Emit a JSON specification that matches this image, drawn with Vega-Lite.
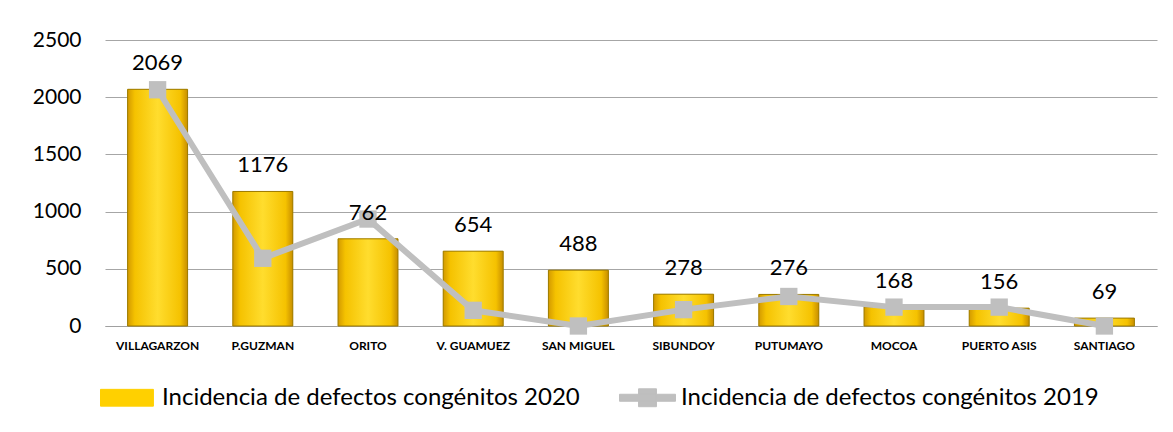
{
  "$schema": "https://vega.github.io/schema/vega-lite/v6.json",
  "width": 1052,
  "height": 286,
  "autosize": {"type": "none"},
  "padding": {"left": 105, "top": 40, "right": 16, "bottom": 106},
  "background": "white",
  "config": {"font": "Lato", "view": {"stroke": null}},
  "data": {
    "values": [
      {"municipio": "VILLAGARZON", "v2020": 2069, "v2019": 2065},
      {"municipio": "P.GUZMAN", "v2020": 1176, "v2019": 592},
      {"municipio": "ORITO", "v2020": 762, "v2019": 935},
      {"municipio": "V. GUAMUEZ", "v2020": 654, "v2019": 137},
      {"municipio": "SAN MIGUEL", "v2020": 488, "v2019": 0},
      {"municipio": "SIBUNDOY", "v2020": 278, "v2019": 143},
      {"municipio": "PUTUMAYO", "v2020": 276, "v2019": 258},
      {"municipio": "MOCOA", "v2020": 168, "v2019": 165},
      {"municipio": "PUERTO ASIS", "v2020": 156, "v2019": 165},
      {"municipio": "SANTIAGO", "v2020": 69, "v2019": 0}
    ]
  },
  "encoding": {
    "x": {
      "field": "municipio",
      "type": "nominal",
      "sort": null,
      "scale": {"paddingInner": 0.43, "paddingOuter": 0.215},
      "axis": {
        "title": null,
        "labelAngle": 0,
        "labelFont": "Lato",
        "labelFontWeight": "bold",
        "labelFontSize": 12,
        "labelColor": "#000000",
        "labelPadding": 14,
        "ticks": false,
        "domainColor": "#A0A0A0",
        "domainWidth": 1
      }
    }
  },
  "layer": [
    {
      "mark": {"type": "bar"},
      "encoding": {
        "y": {
          "field": "v2020",
          "type": "quantitative",
          "scale": {"domain": [0, 2500], "nice": false},
          "axis": {
            "title": null,
            "format": "d",
            "values": [0, 500, 1000, 1500, 2000, 2500],
            "labelFontSize": 21,
            "labelColor": "#000000",
            "labelPadding": 24,
            "ticks": false,
            "domain": false,
            "gridColor": "#A6A6A6",
            "gridWidth": 1
          }
        },
        "color": {
          "datum": "Incidencia de defectos congénitos 2020",
          "type": "nominal",
          "scale": {
            "domain": ["Incidencia de defectos congénitos 2020", "Incidencia de defectos congénitos 2019"],
            "range": ["#FFD000", "#BFBFBF"]
          },
          "legend": {
            "orient": "none",
            "legendX": -5,
            "legendY": 329,
            "padding": 0,
            "direction": "horizontal",
            "title": null,
            "labelFontSize": 24,
            "labelFont": "Lato",
            "labelColor": "#000000",
            "labelLimit": 0,
            "labelOffset": 5,
            "columnPadding": 37,
            "symbolSize": 3136,
            "encode": {
              "symbols": {
                "update": {
                  "shape": {"signal": "datum.value === 'Incidencia de defectos congénitos 2020' ? 'M-1,-0.3H0.89V0.3H-1Z' : 'M-1,-0.125H1V0.125H-1Z M-0.32,-0.32H0.32V0.32H-0.32Z'"},
                  "size": {"value": 3136},
                  "fill": {"signal": "datum.value === 'Incidencia de defectos congénitos 2020' ? '#FFCC00' : '#BFBFBF'"},
                  "stroke": {"signal": "datum.value === 'Incidencia de defectos congénitos 2020' ? '#7F6000' : '#BFBFBF'"},
                  "strokeWidth": {"value": 1},
                  "opacity": {"value": 1}
                }
              }
            }
          }
        }
      }
    },
    {
      "mark": {
        "type": "bar",
        "fill": {
          "gradient": "linear",
          "x1": 0, "x2": 1, "y1": 0, "y2": 0,
          "stops": [
            {"offset": 0, "color": "#D39A00"},
            {"offset": 0.12, "color": "#F5C200"},
            {"offset": 0.5, "color": "#FFDD2E"},
            {"offset": 0.88, "color": "#F5C200"},
            {"offset": 1, "color": "#C88E00"}
          ]
        },
        "stroke": "#9C7A00",
        "strokeWidth": 1
      },
      "encoding": {
        "y": {"field": "v2020", "type": "quantitative"}
      }
    },
    {
      "mark": {"type": "line", "strokeWidth": 6},
      "encoding": {
        "y": {"field": "v2019", "type": "quantitative"},
        "color": {"datum": "Incidencia de defectos congénitos 2019", "type": "nominal"}
      }
    },
    {
      "mark": {"type": "point", "shape": "square", "filled": true, "size": 300, "opacity": 1},
      "encoding": {
        "y": {"field": "v2019", "type": "quantitative"},
        "color": {"datum": "Incidencia de defectos congénitos 2019", "type": "nominal"}
      }
    },
    {
      "mark": {"type": "text", "dy": -26, "fontSize": 22, "color": "#000000", "baseline": "middle"},
      "encoding": {
        "y": {"field": "v2020", "type": "quantitative"},
        "text": {"field": "v2020", "type": "quantitative"}
      }
    }
  ]
}
